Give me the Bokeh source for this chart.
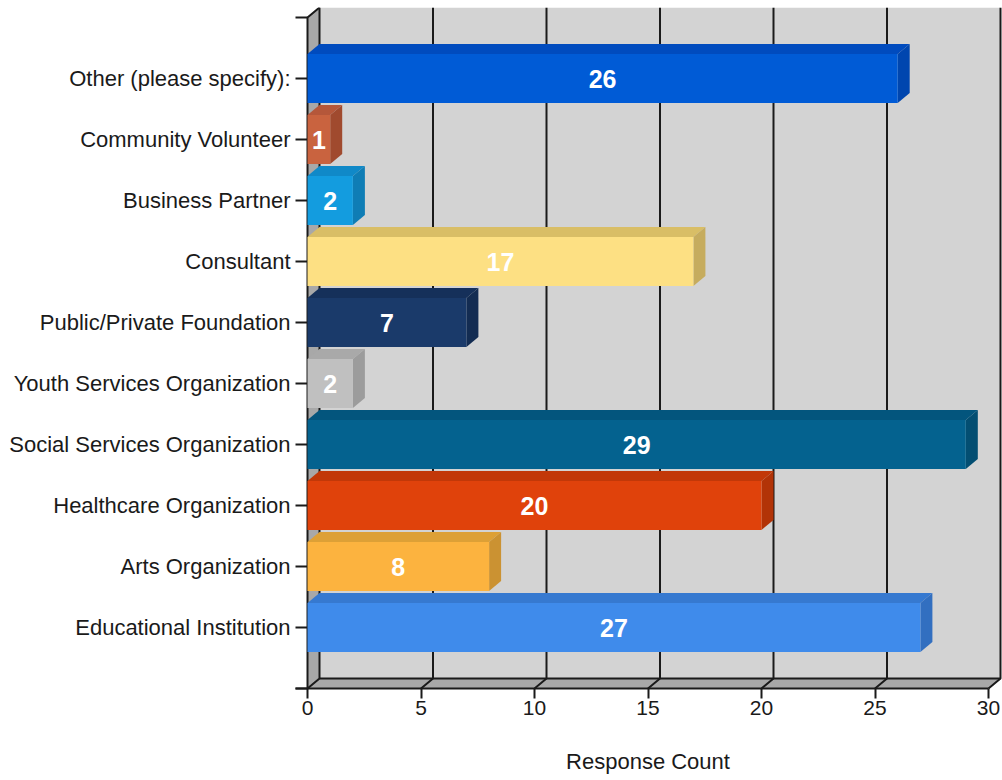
from bokeh.plotting import figure
from bokeh.models import FixedTicker, Range1d, ColumnDataSource
from bokeh.core.properties import value
from bokeh.embed import file_html
from bokeh.resources import INLINE

# ---------------- data ----------------
categories = [
    "Educational Institution",
    "Arts Organization",
    "Healthcare Organization",
    "Social Services Organization",
    "Youth Services Organization",
    "Public/Private Foundation",
    "Consultant",
    "Business Partner",
    "Community Volunteer",
    "Other (please specify):",
]
counts = [27, 8, 20, 29, 2, 7, 17, 2, 1, 26]
x_ticks = [0, 5, 10, 15, 20, 25, 30]
x_title = "Response Count"

# ---------------- styles ----------------
face_colors = ["#3F8BEB", "#FCB33F", "#E0420B", "#04628F", "#C0C0C0",
               "#1A3A6A", "#FDE083", "#139CDF", "#C9633F", "#005BD6"]
top_colors = ["#3679D0", "#DDA036", "#C23808", "#03557D", "#A9A9A9",
              "#15305A", "#D9BE66", "#1089C8", "#B5573A", "#004BBE"]
side_colors = ["#326FC0", "#CB9232", "#B23307", "#034E72", "#9C9C9C",
               "#132C52", "#C6AC5E", "#0F7DB5", "#A04A2E", "#0046AF"]

PXX = 22.7          # pixels per x unit
PXY = 61.0          # pixels per category
DX = 12 / PXX       # 3-D depth in x units
DY = 10 / PXY       # 3-D depth in y units
XMAX = x_ticks[-1]
N = len(categories)
YTOP = N + 1
HALF = 0.4

FONT = value("Liberation Sans")
INK = "#1a1a1a"

W, H = 1002, 780
BL, BT, BB = 293, 7, 89
x_start = -14 / PXX
x_end = x_start + (W - BL) / PXX
y_start = -3 / PXY
y_end = y_start + (H - BT - BB) / PXY

p = figure(width=W, height=H, output_backend="svg", toolbar_location=None,
           x_range=Range1d(x_start, x_end), y_range=Range1d(y_start, y_end),
           min_border_left=BL, min_border_right=0, min_border_top=BT,
           min_border_bottom=BB)
p.outline_line_color = None
p.xgrid.visible = False
p.ygrid.visible = False
p.background_fill_color = "white"
p.border_fill_color = "white"

# back wall
p.quad(left=DX, right=XMAX + DX, bottom=DY, top=YTOP + DY,
       fill_color="#D3D3D3", line_color=None)
# left wall
p.patch([0, DX, DX, 0], [0, DY, YTOP + DY, YTOP], fill_color="#A8A8A8", line_color=None)
# floor
p.patch([0, XMAX, XMAX + DX, DX], [0, 0, DY, DY], fill_color="#A8A8A8", line_color=None)

# grid lines (floor diagonal + back wall vertical)
p.multi_line(xs=[[t, t + DX, t + DX] for t in x_ticks],
             ys=[[0, DY, YTOP + DY] for t in x_ticks],
             line_color=INK, line_width=2)
# back wall bottom edge
p.line([DX, XMAX + DX], [DY, DY], line_color=INK, line_width=2)
# floor front edge (bottom axis line)
p.line([-12 / PXX, XMAX], [0, 0], line_color=INK, line_width=2)
# left axis line and top diagonal
p.line([0, 0, DX], [0, YTOP, YTOP + DY], line_color=INK, line_width=2)
# left ticks
ty = list(range(0, YTOP + 1))
p.segment(x0=[-12 / PXX] * len(ty), y0=ty, x1=[0] * len(ty), y1=ty,
          line_color=INK, line_width=2)

# bars
ys = [i + 1 for i in range(N)]
top_xs, top_ys, side_xs, side_ys = [], [], [], []
for c, v in zip(ys, counts):
    top_xs.append([0, v, v + DX, DX])
    top_ys.append([c + HALF, c + HALF, c + HALF + DY, c + HALF + DY])
    side_xs.append([v, v, v + DX, v + DX])
    side_ys.append([c - HALF, c + HALF, c + HALF + DY, c - HALF + DY])

p.patches(xs=top_xs, ys=top_ys, fill_color=top_colors, line_color=None)
p.patches(xs=side_xs, ys=side_ys, fill_color=side_colors, line_color=None)
src = ColumnDataSource(dict(y=ys, v=counts, mid=[v / 2 for v in counts],
                            lab=[str(v) for v in counts], col=face_colors))
p.hbar(y="y", left=0, right="v", height=2 * HALF, fill_color="col",
       line_color=None, source=src)
p.text(x="mid", y="y", text="lab", source=src, text_color="white",
       text_font=FONT, text_font_size="25px", text_font_style="bold",
       text_align="center", text_baseline="middle")

# axes
xa = p.xaxis[0]
xa.ticker = FixedTicker(ticks=x_ticks)
xa.axis_line_color = None
xa.major_tick_in = 3
xa.major_tick_out = 7
xa.major_tick_line_width = 2
xa.major_tick_line_color = INK
xa.minor_tick_line_color = None
xa.major_label_standoff = 2
xa.major_label_text_font = "Liberation Sans"
xa.major_label_text_font_size = "21px"
xa.major_label_text_color = INK
xa.axis_label = x_title
xa.axis_label_standoff = 31
xa.axis_label_text_line_height = 0.9
xa.axis_label_text_font = "Liberation Sans"
xa.axis_label_text_font_size = "22px"
xa.axis_label_text_font_style = "normal"
xa.axis_label_text_color = INK

ya = p.yaxis[0]
ya.ticker = FixedTicker(ticks=ys)
ya.major_label_overrides = {y: c for y, c in zip(ys, categories)}
ya.axis_line_color = None
ya.major_tick_in = 0
ya.major_tick_out = 0
ya.minor_tick_line_color = None
ya.major_label_standoff = 3
ya.major_label_text_font = "Liberation Sans"
ya.major_label_text_font_size = "22px"
ya.major_label_text_color = INK

open("out.html", "w").write(file_html(p, INLINE))
